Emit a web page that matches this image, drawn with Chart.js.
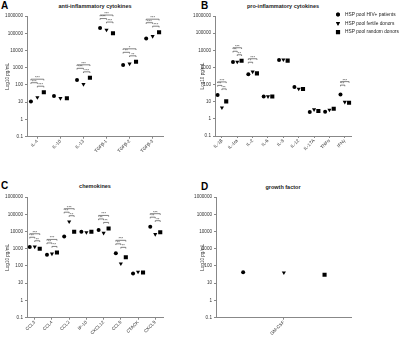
<!DOCTYPE html>
<html>
<head>
<meta charset="utf-8">
<script src="https://cdn.jsdelivr.net/npm/chart.js@4.4.0/dist/chart.umd.min.js"></script>
<style>
  body { margin: 0; width: 400px; height: 337px; position: relative; background: #fff; overflow: hidden; font-family: "Liberation Sans", Arial, sans-serif; }
  canvas { position: absolute; }
  .letter { position: absolute; font-weight: bold; font-size: 10px; line-height: 10px; }
  .heading { position: absolute; font-weight: bold; font-size: 5.5px; line-height: 6px; text-align: center; width: 140px; color: #222; }
</style>
</head>
<body>
<div class="letter" style="left:1px;top:1px">A</div>
<div class="letter" style="left:201px;top:1px">B</div>
<div class="letter" style="left:1px;top:181px">C</div>
<div class="letter" style="left:201px;top:182px">D</div>
<div class="heading" style="left:25px;top:3px">anti-inflammatory cytokines</div>
<div class="heading" style="left:213px;top:3px">pro-inflammatory cytokines</div>
<div class="heading" style="left:25px;top:183px">chemokines</div>
<div class="heading" style="left:213px;top:184px">growth factor</div>

<canvas id="chartA" width="200" height="168" style="left:0;top:0"></canvas>
<canvas id="chartB" width="212" height="168" style="left:188px;top:0"></canvas>
<canvas id="chartC" width="200" height="169" style="left:0;top:168px"></canvas>
<canvas id="chartD" width="212" height="169" style="left:188px;top:168px"></canvas>

<script>
// series / tick labels
const seriesNames = ['HSP pool HIV+ patients', 'HSP pool fertile donors', 'HSP pool random donors'];
const tickValues = [0.1, 1, 10, 100, 1000, 10000, 100000, 1000000];

// A - anti-inflammatory cytokines
const catsA = ['IL-4', 'IL-10', 'IL-13', 'TGFβ-1', 'TGFβ-2', 'TGFβ-3'];
const hivA = [11, 23, 195, 200000, 1450, 49000];
const fertileA = [19, 17, 110, 155000, 1700, 67000];
const randomA = [38, 17, 260, 100000, 2200, 115000];
// significance: [HIV vs random, HIV vs fertile, fertile vs random]
const sigA = [['***', '***', '***'], null, ['***', '***', '***'], ['***', '***', '***'], ['*', '**', '**'], ['***', '***', '***']];

// B - pro-inflammatory cytokines
const catsB = ['IL-1β', 'IL-1ra', 'IL-2', 'IL-6', 'IL-8', 'IL-12', 'IL-17A', 'TNFα', 'IFNγ'];
const hivB = [25, 2100, 400, 20, 2750, 73, 2.5, 2.6, 26];
const fertileB = [4.5, 2100, 560, 20, 2850, 56, 3.5, 3.3, 9.6];
const randomB = [10.5, 2450, 450, 20, 2500, 55, 2.9, 3.9, 8.7];
const sigB = [['***', '**', '**'], ['***', '**', '**'], ['***', '*', null], null, null, null, null, null, ['***', '**', null]];

// C - chemokines
const catsC = ['CCL3', 'CCL4', 'CCL2', 'IP-10', 'CXCL12', 'CCL5', 'CTACK', 'CXCL9'];
const hivC = [1260, 450, 5200, 9700, 12000, 540, 37, 19000];
const fertileC = [1300, 510, 37000, 8900, 8100, 135, 45, 6900];
const randomC = [1000, 610, 9700, 9700, 15000, 320, 42, 9000];
const sigC = [['***', '**', '**'], ['***', '**', '**'], ['***', '**', '**'], null, ['***', '**', '**'], ['***', '**', '**'], null, ['***', '**', '**']];

// D - growth factor
const catsD = ['GM-CSF'];
const hivD = [43];
const fertileD = [41];
const randomD = [31];
const sigD = [null];

const markers = [
  { pointStyle: 'circle', radius: 2, rotation: 0 },
  { pointStyle: 'triangle', radius: 2.4, rotation: 180 },
  { pointStyle: 'rect', radius: 2.9, rotation: 0 }
];
const tickFont = { family: 'Liberation Sans', size: 4.6 };

// significance brackets, placed above the highest point of each group
const bracketPlugin = {
  id: 'brackets',
  afterDatasetsDraw(chart, args, opts) {
    const sig = opts.sig;
    if (!sig) return;
    const { ctx, scales } = chart;
    const x = scales.x, y = scales.y;
    ctx.save();
    ctx.strokeStyle = '#333';
    ctx.fillStyle = '#333';
    ctx.lineWidth = 0.6;
    ctx.font = '4px "Liberation Sans"';
    ctx.textAlign = 'center';
    ctx.textBaseline = 'bottom';
    sig.forEach((s, i) => {
      if (!s) return;
      const xs = [-1, 0, 1].map(k => x.getPixelForValue(i + k * opts.offset));
      const top = Math.min(...chart.data.datasets.map(ds => y.getPixelForValue(ds.data[i].y)));
      const base = top - 6;
      const spans = [[xs[0], xs[2], base - 7], [xs[0], xs[1], base - 3.5], [xs[1], xs[2], base]];
      s.forEach((lab, k) => {
        if (!lab) return;
        const [x1, x2, yy] = spans[k];
        ctx.beginPath();
        ctx.moveTo(x1, yy + 1.2);
        ctx.lineTo(x1, yy);
        ctx.lineTo(x2, yy);
        ctx.lineTo(x2, yy + 1.2);
        ctx.stroke();
        ctx.fillText(lab, (x1 + x2) / 2, yy + 0.8);
      });
    });
    ctx.restore();
  }
};

// legend drawn beside panel B
const legendPlugin = {
  id: 'sideLegend',
  afterDraw(chart, args, opts) {
    if (!opts.show) return;
    const ctx = chart.ctx;
    ctx.save();
    ctx.font = '4.8px "Liberation Sans"';
    ctx.fillStyle = '#222';
    ctx.textBaseline = 'middle';
    seriesNames.forEach((name, d) => {
      const yy = opts.y + d * 8.8;
      Chart.helpers.drawPoint(ctx, { pointStyle: markers[d].pointStyle, radius: markers[d].radius, rotation: markers[d].rotation, borderWidth: 0 }, opts.x, yy);
      ctx.fillStyle = '#000';
      ctx.fill();
      ctx.fillStyle = '#222';
      ctx.fillText(name, opts.x + 7, yy);
    });
    ctx.restore();
  }
};

function makePanel(id, cats, series, sig, cfg) {
  const n = cats.length;
  const datasets = series.map((vals, d) => ({
    label: seriesNames[d],
    data: vals.map((v, i) => ({ x: i + (d - 1) * cfg.offset, y: v })),
    pointStyle: markers[d].pointStyle,
    pointRadius: markers[d].radius,
    pointRotation: markers[d].rotation,
    pointBackgroundColor: '#000',
    pointBorderColor: '#000',
    pointBorderWidth: 0,
    showLine: false
  }));
  new Chart(document.getElementById(id), {
    type: 'scatter',
    data: { datasets },
    plugins: [bracketPlugin, legendPlugin],
    options: {
      responsive: false,
      animation: false,
      devicePixelRatio: 1,
      layout: { padding: { top: cfg.top, right: cfg.right, left: 0, bottom: 0 } },
      plugins: {
        legend: { display: false },
        tooltip: { enabled: false },
        brackets: { sig, offset: cfg.offset },
        sideLegend: cfg.legend || { show: false }
      },
      scales: {
        x: {
          type: 'linear',
          min: -cfg.pad,
          max: n - 1 + cfg.pad,
          afterBuildTicks: s => { s.ticks = cats.map((c, i) => ({ value: i })); },
          afterFit: s => { s.height = cfg.xh; },
          ticks: { autoSkip: false, minRotation: 45, maxRotation: 45, font: tickFont, color: '#333', padding: 0, callback: v => cats[v] },
          grid: { drawOnChartArea: false, drawTicks: true, tickLength: 2, color: '#888' },
          border: { color: '#888', width: 1 }
        },
        y: {
          type: 'logarithmic',
          min: 0.1,
          max: 1000000,
          afterBuildTicks: s => { s.ticks = tickValues.map(v => ({ value: v })); },
          afterFit: s => { s.width = cfg.yw; },
          ticks: { font: tickFont, color: '#333', padding: 2, callback: v => String(v) },
          title: { display: true, text: 'Log10 pg/mL', font: tickFont, color: '#333', padding: { top: cfg.tp, bottom: 0 } },
          grid: { drawOnChartArea: false, drawTicks: true, tickLength: 2, color: '#888' },
          border: { color: '#888', width: 1 }
        }
      }
    }
  });
}

makePanel('chartA', catsA, [hivA, fertileA, randomA], sigA, { top: 16, right: 37, xh: 31.3, yw: 27, pad: 0.45, offset: 0.28, tp: 5 });
makePanel('chartB', catsB, [hivB, fertileB, randomB], sigB, { top: 16, right: 48.3, xh: 32, yw: 27, pad: 0.45, offset: 0.28, tp: 12, legend: { show: true, x: 150, y: 14.5 } });
makePanel('chartC', catsC, [hivC, fertileC, randomC], sigC, { top: 29, right: 37, xh: 19.3, yw: 27, pad: 0.45, offset: 0.29, tp: 5 });
makePanel('chartD', catsD, [hivD, fertileD, randomD], sigD, { top: 29, right: 48.3, xh: 19.3, yw: 28, pad: 0.5, offset: 0.3, tp: 12 });
</script>
</body>
</html>
